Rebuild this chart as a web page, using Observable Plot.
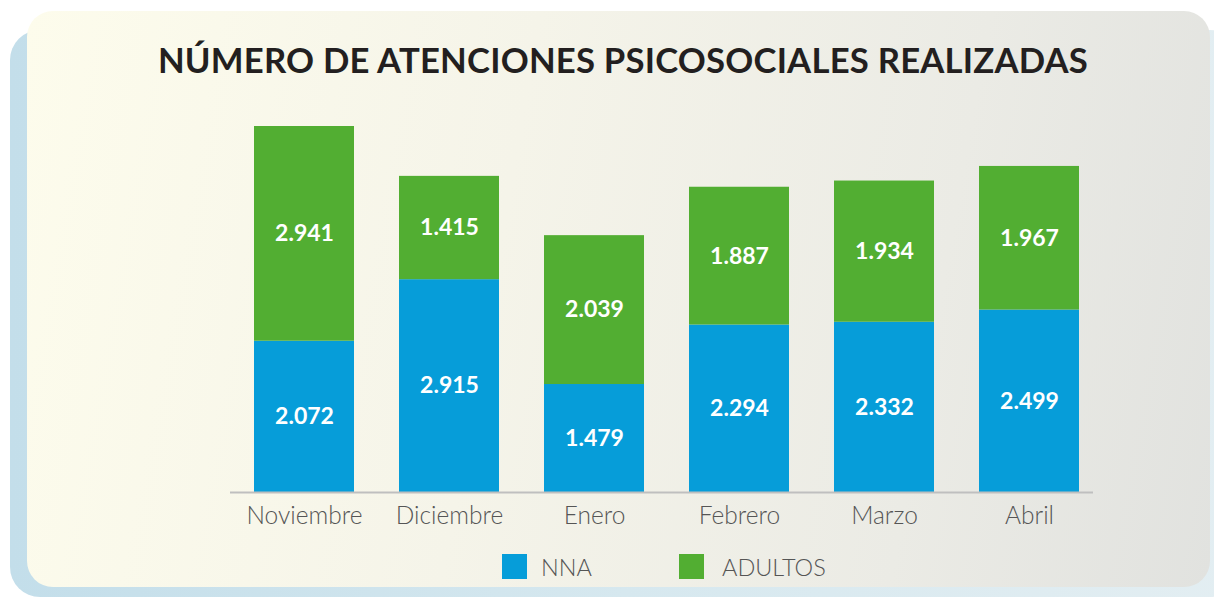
<!DOCTYPE html>
<html>
<head>
<meta charset="utf-8">
<script src="https://cdn.jsdelivr.net/npm/d3@7"></script>
<script src="https://cdn.jsdelivr.net/npm/@observablehq/plot@0.6"></script>
<style>
  html, body { margin: 0; padding: 0; background: #ffffff; }
  #wrap { position: relative; width: 1214px; height: 598px; overflow: hidden; font-family: Lato, "Open Sans", sans-serif; }
  #shadow { position: absolute; left: 10px; top: 30px; width: 1230px; height: 567px; border-radius: 30px;
    background: linear-gradient(to right, #c3deea 0%, #d6e8ef 50%, #e3eef2 100%); }
  #panel { position: absolute; left: 27px; top: 11px; width: 1183px; height: 576px; border-radius: 26px;
    background: linear-gradient(100deg, #fdfcec 0%, #f5f4e9 40%, #ebebe5 75%, #e1e2df 100%); }
  #title { position: absolute; left: 0; width: 1246px; top: 39px; text-align: center; font-family: Lato, sans-serif;
    font-weight: 700; font-size: 34.7px; color: #231f20; letter-spacing: 0.2px; white-space: nowrap; }
  #chart { position: absolute; left: 0; top: 0; }
  #legend { position: absolute; top: 554px; left: 0; width: 1214px; height: 26px; font-family: Lato, sans-serif; font-weight: 300; font-size: 23.5px; color: #555555; letter-spacing: 0px; }
  .sw { position: absolute; top: 0; width: 25px; height: 25px; }
  .lt { position: absolute; top: 0px; line-height: 26px; }
</style>
</head>
<body>
<div id="wrap">
  <div id="shadow"></div>
  <div id="panel"></div>
  <div id="title">NÚMERO DE ATENCIONES PSICOSOCIALES REALIZADAS</div>
  <div id="chart"></div>
  <div id="legend">
    <div class="sw" style="left:502px;background:#069dd9"></div><div class="lt" style="left:541px">NNA</div>
    <div class="sw" style="left:679px;background:#52ae32"></div><div class="lt" style="left:722px">ADULTOS</div>
  </div>
</div>
<script>
const months = ["Noviembre", "Diciembre", "Enero", "Febrero", "Marzo", "Abril"];
const nna = [2072, 2915, 1479, 2294, 2332, 2499];
const adultos = [2941, 1415, 2039, 1887, 1934, 1967];
const seriesNames = ["NNA", "ADULTOS"];
const seriesColors = ["#069dd9", "#52ae32"];

const data = [];
months.forEach((m, i) => {
  data.push({month: m, series: "NNA", value: nna[i]});
  data.push({month: m, series: "ADULTOS", value: adultos[i]});
});
const fmt = v => d3.format(",")(v).replace(/,/g, ".");
const maxTotal = d3.max(months, (m, i) => nna[i] + adultos[i]);

const chart = Plot.plot({
  width: 1214,
  height: 598,
  marginLeft: 230,
  marginRight: 121,
  marginTop: 126,
  marginBottom: 106,
  style: {background: "transparent", fontFamily: "Lato, sans-serif"},
  x: {domain: months, paddingInner: 0.311, paddingOuter: 0.1275, align: 0.62},
  y: {domain: [0, maxTotal], axis: null},
  color: {domain: seriesNames, range: seriesColors},
  marks: [
    Plot.barY(data, {x: "month", y: "value", fill: "series", order: seriesNames}),
    Plot.text(data, Plot.stackY({x: "month", y: "value", z: "series", order: seriesNames,
      text: d => fmt(d.value), fill: "white", fontSize: 23, fontWeight: "bold"})),
    Plot.ruleY([0], {stroke: "#bfbfbf", strokeWidth: 2}),
    Plot.axisX({tickSize: 0, tickPadding: 14, fontSize: 24.5, fontWeight: 300, fill: "#555555", label: null,
      style: {letterSpacing: "1.8px"}})
  ]
});
document.getElementById("chart").appendChild(chart);
</script>
</body>
</html>
